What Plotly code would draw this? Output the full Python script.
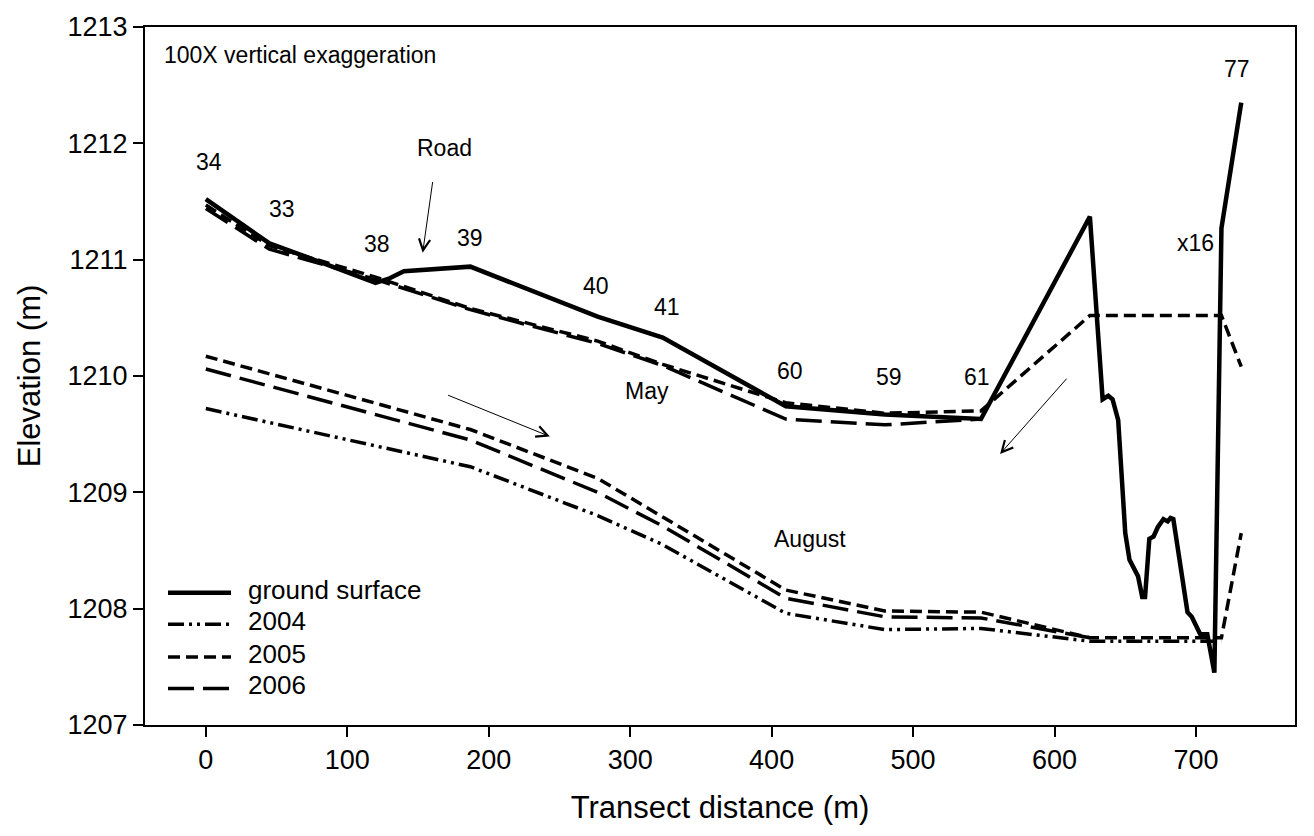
import plotly.graph_objects as go

# Transect stations (m along transect)
ground_x = [0, 45, 72, 120, 130, 140, 187, 277, 323, 410, 480, 548, 625,
            634, 638, 641, 645, 650, 653, 659, 662, 664, 667, 670, 673, 677,
            680, 682, 684, 688, 694, 697, 703, 708, 713, 718, 732]
ground_y = [1211.52, 1211.14, 1211.02, 1210.80, 1210.84, 1210.90, 1210.94,
            1210.51, 1210.33, 1209.74, 1209.67, 1209.63, 1211.37,
            1209.80, 1209.83, 1209.80, 1209.62, 1208.65, 1208.42, 1208.28,
            1208.10, 1208.10, 1208.60, 1208.62, 1208.70, 1208.77,
            1208.75, 1208.78, 1208.77, 1208.45, 1207.97, 1207.93, 1207.78,
            1207.78, 1207.45, 1211.27, 1212.35]

# May water levels
may05_x = [0, 45, 120, 187, 277, 323, 410, 480, 548, 625, 718, 732]
may05_y = [1211.47, 1211.12, 1210.85, 1210.58, 1210.30, 1210.10, 1209.77,
           1209.68, 1209.70, 1210.52, 1210.52, 1210.08]
may06_x = [0, 45, 120, 187, 277, 323, 410, 480, 548]
may06_y = [1211.44, 1211.09, 1210.83, 1210.57, 1210.28, 1210.09, 1209.63,
           1209.58, 1209.63]

# August water levels
aug04_x = [0, 187, 277, 323, 410, 480, 548, 625, 718]
aug04_y = [1209.72, 1209.22, 1208.80, 1208.55, 1207.96, 1207.82, 1207.83,
           1207.72, 1207.72]
aug05_x = [0, 187, 277, 323, 410, 480, 548, 625, 718, 732]
aug05_y = [1210.17, 1209.54, 1209.12, 1208.79, 1208.16, 1207.98, 1207.97,
           1207.75, 1207.75, 1208.65]
aug06_x = [0, 187, 277, 323, 410, 480, 548, 625]
aug06_y = [1210.06, 1209.45, 1209.00, 1208.71, 1208.09, 1207.93, 1207.92,
           1207.75]

# Well labels
well_names = ["34", "33", "38", "39", "40", "41", "60", "59", "61", "x16", "77"]
well_lx = [2, 54, 121, 187, 276, 326, 413, 483, 545, 700, 729]
well_ly = [1211.80, 1211.39, 1211.09, 1211.14, 1210.73, 1210.55, 1210.00,
           1209.95, 1209.95, 1211.10, 1212.60]

FONT = "Liberation Sans, Arial, sans-serif"
ink = "black"

# line styles per series: (legend label, width, dash)
styles = {
    "ground surface": (4.5, "solid"),
    "2004": (3.5, "16px,5px,3px,5px,3px,5px"),
    "2005": (3.5, "12px,6px"),
    "2006": (3.5, "26px,9px"),
}

fig = go.Figure()

def add_line(x, y, key):
    w, d = styles[key]
    fig.add_trace(go.Scatter(x=x, y=y, mode="lines", name=key, showlegend=False,
                             line=dict(color=ink, width=w, dash=d)))

add_line(ground_x, ground_y, "ground surface")
add_line(aug04_x, aug04_y, "2004")
add_line(aug05_x, aug05_y, "2005")
add_line(aug06_x, aug06_y, "2006")
add_line(may05_x, may05_y, "2005")
add_line(may06_x, may06_y, "2006")

lab_font = dict(size=23, color=ink, family=FONT)
for name, lx, ly in zip(well_names, well_lx, well_ly):
    fig.add_annotation(x=lx, y=ly, text=name, showarrow=False, yshift=5, font=lab_font)

fig.add_annotation(x=312, y=1209.83, text="May", showarrow=False, yshift=5, font=lab_font)
fig.add_annotation(x=427, y=1208.56, text="August", showarrow=False, yshift=5, font=lab_font)
fig.add_annotation(x=169, y=1211.92, text="Road", showarrow=False, yshift=5, font=lab_font)
fig.add_annotation(x=0.0148, y=0.955, xref="paper", yref="paper", xanchor="left",
                   yanchor="middle", yshift=3,
                   text="100X vertical exaggeration", showarrow=False,
                   font=dict(size=23, color=ink, family=FONT))

# arrows: (tail_x, tail_y, head_x, head_y)
arrows = [(160.5, 1211.68, 153.3, 1211.06),
          (170.2, 1209.84, 243.2, 1209.48),
          (609.5, 1209.99, 561.5, 1209.33)]
for tx, ty, hx, hy in arrows:
    fig.add_annotation(x=hx, y=hy, ax=tx, ay=ty, xref="x", yref="y",
                       axref="x", ayref="y", text="", showarrow=True,
                       arrowhead=5, arrowsize=2.2, arrowwidth=1, arrowcolor=ink)

# legend block in the lower-left corner of the plot area
legend_keys = ["ground surface", "2004", "2005", "2006"]
leg_y = [0.1895, 0.1443, 0.0976, 0.0523]
for key, yy in zip(legend_keys, leg_y):
    w, d = styles[key]
    fig.add_shape(type="line", xref="paper", yref="paper", x0=0.02, x1=0.0748,
                  y0=yy, y1=yy, line=dict(color=ink, width=w, dash=d))
    fig.add_annotation(x=0.0878, y=yy, xref="paper", yref="paper", xanchor="left",
                       yanchor="middle", yshift=3, text=key, showarrow=False,
                       font=dict(size=26, color=ink, family=FONT))

fig.update_layout(
    width=1314, height=836,
    margin=dict(l=145, r=19, t=18, b=111),
    paper_bgcolor="white", plot_bgcolor="white",
    font=dict(family=FONT, color=ink),
    showlegend=False,
)
fig.update_xaxes(range=[-43, 770], tick0=0, dtick=100, ticks="outside", ticklen=10,
                 tickwidth=2, tickcolor=ink, showline=True, linecolor=ink, linewidth=2,
                 mirror=True, showgrid=False, zeroline=False,
                 tickfont=dict(size=27, family=FONT),
                 title=dict(text="Transect distance (m)", font=dict(size=31, family=FONT),
                            standoff=22))
fig.update_yaxes(range=[1207, 1213], tick0=1207, dtick=1, ticks="outside", ticklen=10,
                 tickwidth=2, tickcolor=ink, showline=True, linecolor=ink, linewidth=2,
                 mirror=True, showgrid=False, zeroline=False,
                 tickfont=dict(size=27, family=FONT),
                 title=dict(text="Elevation (m)", font=dict(size=31, family=FONT),
                            standoff=18))

fig.write_html("out.html")
